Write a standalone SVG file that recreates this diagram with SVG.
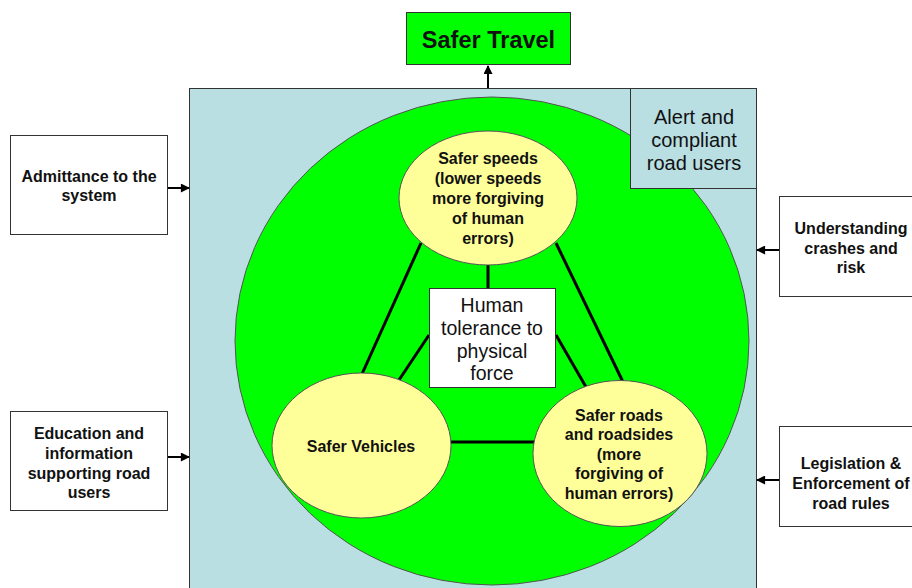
<svg xmlns="http://www.w3.org/2000/svg" width="912" height="588" viewBox="0 0 912 588">
<defs>
<marker id="ah" viewBox="0 0 10 10" refX="9" refY="5" markerWidth="5" markerHeight="4.5" orient="auto" markerUnits="strokeWidth"><path d="M0,0 L10,5 L0,10 z" fill="#000"/></marker>
<style>
.t{font-family:"Liberation Sans",Arial,sans-serif;fill:#111;text-anchor:middle}
.b{font-weight:bold;font-size:16px}
.r{font-size:19.5px}
.box{fill:#fff;stroke:#333;stroke-width:1}
.ell{fill:#ffff99;stroke:#555;stroke-width:1}
.ln{stroke:#000;stroke-width:3;fill:none}
.ar{stroke:#000;stroke-width:2;fill:none;marker-end:url(#ah)}
</style>
</defs>
<rect width="912" height="588" fill="#fff"/>
<g id="system">
<rect x="189.5" y="88.5" width="567" height="510" fill="#b9dfe3" stroke="#333" stroke-width="1"/>
<ellipse cx="492" cy="341" rx="257" ry="244" fill="#00ff00" stroke="#555" stroke-width="1"/>
</g>
<g id="alert">
<rect x="630.5" y="88.5" width="126" height="100" fill="#b9dfe3" stroke="#333" stroke-width="1"/>
<text class="t" x="694" y="124" font-size="20">Alert and</text>
<text class="t" x="694" y="147" font-size="20">compliant</text>
<text class="t" x="694" y="170" font-size="20">road users</text>
</g>
<g id="connectors">
<line class="ln" x1="488" y1="265" x2="488" y2="289"/>
<line class="ln" x1="421" y1="243" x2="362" y2="374"/>
<line class="ln" x1="556" y1="243" x2="623" y2="382"/>
<line class="ln" x1="429" y1="335" x2="399" y2="380"/>
<line class="ln" x1="556" y1="335" x2="586" y2="387"/>
<line class="ln" x1="451" y1="442" x2="534" y2="442"/>
<line class="ar" x1="488" y1="88" x2="488" y2="66"/>
<line class="ar" x1="168" y1="188" x2="189" y2="188"/>
<line class="ar" x1="168" y1="457" x2="189" y2="457"/>
<line class="ar" x1="779" y1="250" x2="757" y2="250"/>
<line class="ar" x1="779" y1="480" x2="757" y2="480"/>
</g>
<g id="safer-travel">
<rect x="406.5" y="12.5" width="164" height="52" fill="#00ff00" stroke="#333" stroke-width="1"/>
<text class="t" x="488.5" y="48" font-size="23.5" font-weight="bold">Safer Travel</text>
</g>
<g id="safer-speeds">
<ellipse class="ell" cx="488" cy="198" rx="89" ry="67"/>
<text class="t b" x="488" y="164">Safer speeds</text>
<text class="t b" x="488" y="184">(lower speeds</text>
<text class="t b" x="488" y="204">more forgiving</text>
<text class="t b" x="488" y="224">of human</text>
<text class="t b" x="488" y="244">errors)</text>
</g>
<g id="human-tolerance">
<rect class="box" x="429.5" y="288.5" width="126" height="99"/>
<text class="t r" x="492" y="312">Human</text>
<text class="t r" x="492" y="335">tolerance to</text>
<text class="t r" x="492" y="358">physical</text>
<text class="t r" x="492" y="380">force</text>
</g>
<g id="safer-vehicles">
<ellipse class="ell" cx="361.5" cy="445.5" rx="89.5" ry="72.5"/>
<text class="t b" x="361" y="452">Safer Vehicles</text>
</g>
<g id="safer-roads">
<ellipse class="ell" cx="620" cy="453.5" rx="87" ry="73"/>
<text class="t b" x="619" y="421">Safer roads</text>
<text class="t b" x="619" y="440">and roadsides</text>
<text class="t b" x="619" y="460">(more</text>
<text class="t b" x="619" y="479">forgiving of</text>
<text class="t b" x="619" y="499">human errors)</text>
</g>
<g id="admittance">
<rect class="box" x="10.5" y="135.5" width="157" height="99"/>
<text class="t b" x="89" y="182">Admittance to the</text>
<text class="t b" x="89" y="201">system</text>
</g>
<g id="education">
<rect class="box" x="10.5" y="411.5" width="157" height="99"/>
<text class="t b" x="89" y="439">Education and</text>
<text class="t b" x="89" y="459">information</text>
<text class="t b" x="89" y="479">supporting road</text>
<text class="t b" x="89" y="498">users</text>
</g>
<g id="understanding">
<rect class="box" x="779.5" y="196.5" width="140" height="100"/>
<text class="t b" x="851" y="234">Understanding</text>
<text class="t b" x="851" y="254">crashes and</text>
<text class="t b" x="851" y="273">risk</text>
</g>
<g id="legislation">
<rect class="box" x="779.5" y="426.5" width="140" height="100"/>
<text class="t b" x="851" y="469">Legislation &amp;</text>
<text class="t b" x="851" y="489">Enforcement of</text>
<text class="t b" x="851" y="509">road rules</text>
</g>
</svg>
